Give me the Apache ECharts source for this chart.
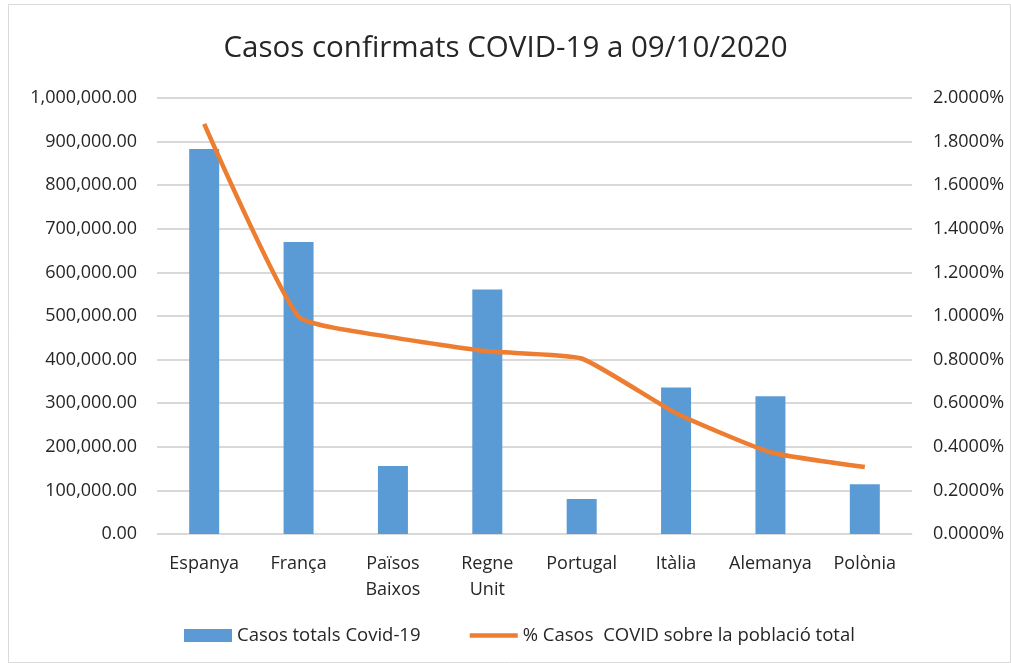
<!DOCTYPE html>
<html>
<head>
<meta charset="utf-8">
<script src="https://cdn.jsdelivr.net/npm/echarts@6/dist/echarts.min.js"></script>
<style>
html,body{margin:0;padding:0;background:#fff;}
#c{width:1011px;height:663px;}
</style>
</head>
<body>
<div id="c"></div>
<script>
var categories = ['Espanya', 'França', 'Països\nBaixos', 'Regne\nUnit', 'Portugal', 'Itàlia', 'Alemanya', 'Polònia'];
var casosTotals = [883000, 670000, 156000, 561000, 80000, 336000, 316000, 114000];
var percentPoblacio = [1.881, 0.998, 0.902, 0.838, 0.805, 0.554, 0.375, 0.307];
var leftTicks = [0, 1000000, 100000];
var rightTicks = [0, 2, 0.2];

var FONT = '"Open Sans", "Noto Sans", sans-serif';
var chart = echarts.init(document.getElementById('c'));
chart.setOption({
  animation: false,
  backgroundColor: '#fff',
  textStyle: { fontFamily: FONT },
  title: {
    text: 'Casos confirmats COVID-19 a 09/10/2020',
    left: 'center', top: 29,
    textStyle: { fontFamily: FONT, fontSize: 29.5, fontWeight: 'normal', color: '#262626' }
  },
  graphic: [{
    type: 'rect', left: 6, top: 2, z: -1,
    shape: { width: 1002, height: 658 },
    style: { fill: 'none', stroke: '#d9d9d9', lineWidth: 1 }
  }],
  legend: {
    bottom: 13, left: 179, itemGap: 47,
    itemWidth: 48, itemHeight: 13,
    textStyle: { fontFamily: FONT, fontSize: 18.5, color: '#262626' },
    data: [
      { name: 'Casos totals Covid-19', icon: 'rect' },
      { name: '% Casos  COVID sobre la població total', itemStyle: { opacity: 0 }, lineStyle: { width: 4.5, color: '#ed7d31' } }
    ]
  },
  grid: { left: 157, right: 99, top: 98, bottom: 129 },
  xAxis: {
    type: 'category', data: categories,
    axisTick: { show: false },
    axisLine: { lineStyle: { color: '#d9d9d9', width: 1 } },
    axisLabel: { color: '#262626', fontSize: 18, fontFamily: FONT, margin: 17, lineHeight: 26, interval: 0 }
  },
  yAxis: [{
    type: 'value', min: leftTicks[0], max: leftTicks[1], interval: leftTicks[2],
    axisLine: { show: false }, axisTick: { show: false },
    splitLine: { lineStyle: { color: '#d9d9d9', width: 2 } },
    axisLabel: {
      color: '#262626', fontSize: 18, fontFamily: FONT, margin: 20,
      formatter: function (v) { return v.toLocaleString('en-US', { minimumFractionDigits: 2, maximumFractionDigits: 2 }); }
    }
  }, {
    type: 'value', min: rightTicks[0], max: rightTicks[1], interval: rightTicks[2],
    axisLine: { show: false }, axisTick: { show: false },
    splitLine: { show: false },
    axisLabel: {
      color: '#262626', fontSize: 18, fontFamily: FONT, margin: 21,
      formatter: function (v) { return v.toFixed(4) + '%'; }
    }
  }],
  series: [{
    name: 'Casos totals Covid-19', type: 'bar', data: casosTotals,
    barWidth: 30, itemStyle: { color: '#5b9bd5' }
  }, {
    name: '% Casos  COVID sobre la població total', type: 'line', yAxisIndex: 1,
    data: percentPoblacio, smooth: 0.15, showSymbol: false, symbol: 'none',
    lineStyle: { color: '#ed7d31', width: 4.5 }, itemStyle: { color: '#ed7d31' }
  }]
});
</script>
</body>
</html>
